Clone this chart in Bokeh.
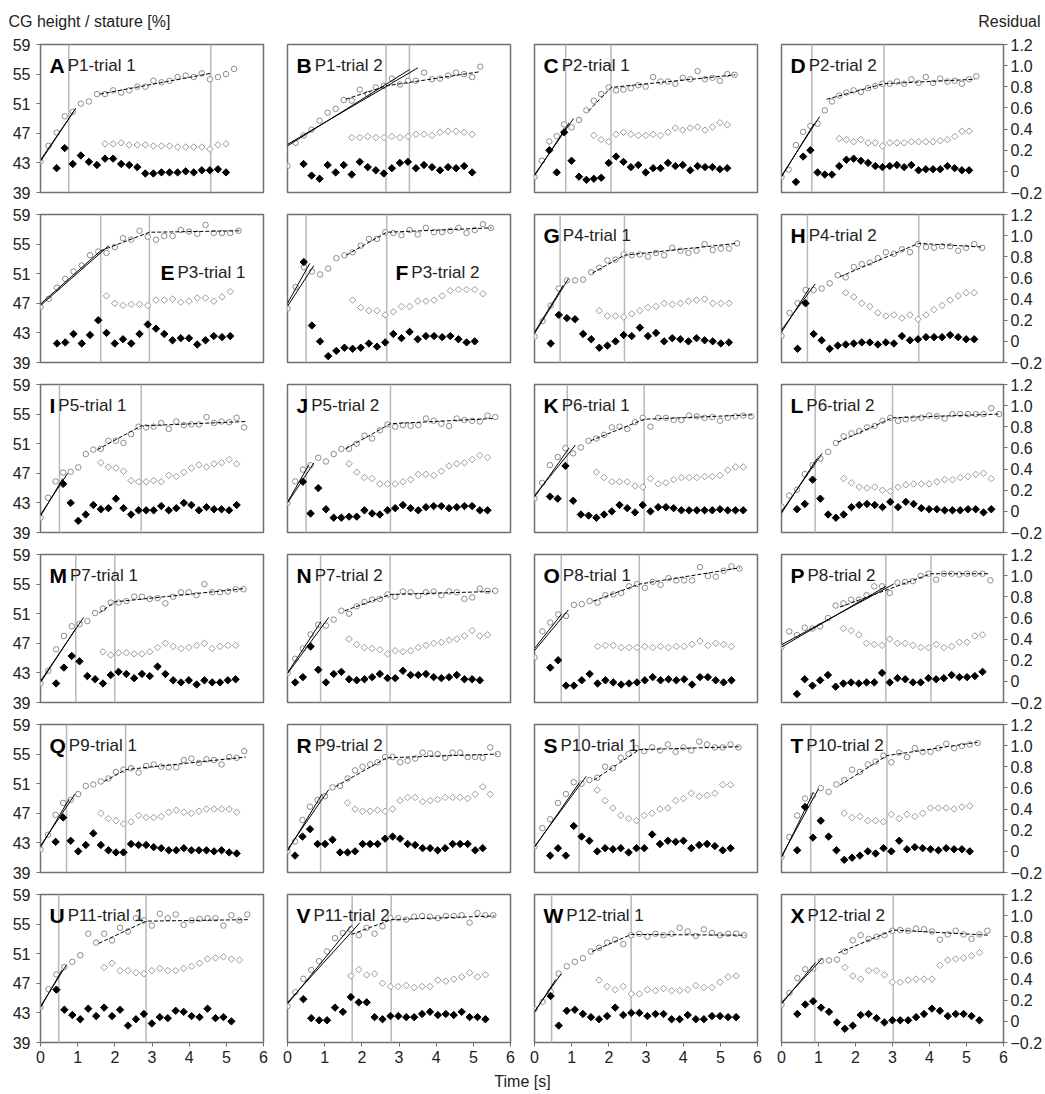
from bokeh.plotting import figure
from bokeh.layouts import gridplot, column
from bokeh.models import Range1d, LinearAxis, Label, Span, FixedTicker
from bokeh.embed import file_html
from bokeh.resources import INLINE

# ---------------- data ----------------
# cg: CG height / stature [%] (left axis), sampled every dt seconds from t=0
# open: residual (open diamonds, right axis) starting at sample 8
# fill: residual (filled diamonds, right axis) starting at sample fill0
# fit: two straight fits of the first phase [t0, y0, t1, y1]
# dash: dashed fit polyline [[t, y], ...]; phase: phase boundaries [s]

A_dt = 0.217
A_cg = [43.2, 45.3, 47.1, 49.3, 49.9, 51.0, 51.3, 52.3, 52.3, 52.8, 52.5, 52.8, 53.3, 53.3, 54.1, 53.9, 54.1, 54.6, 54.8, 54.6, 55.1, 54.3, 54.6, 55.0, 55.7]
A_open = [0.26, 0.26, 0.27, 0.25, 0.25, 0.25, 0.24, 0.24, 0.24, 0.23, 0.23, 0.23, 0.23, 0.21, 0.25, 0.26]
A_fill0 = 2
A_fill = [0.03, 0.22, 0.07, 0.15, 0.09, 0.06, 0.12, 0.12, 0.07, 0.06, 0.04, -0.02, -0.02, -0.01, -0.01, -0.01, 0.00, -0.01, 0.01, 0.01, 0.02, -0.01]
A_fit = [[0, 43.2, 0.95, 50.4], [0, 43.4, 0.90, 50.0]]
A_dash = [[1.60, 52.3], [4.58, 55.1]]
A_phase = [0.76, 4.58]

B_dt = 0.216
B_cg = [42.6, 45.7, 46.7, 47.5, 48.7, 49.8, 50.3, 51.5, 51.4, 52.9, 52.3, 53.2, 53.4, 54.4, 53.6, 54.1, 54.1, 55.2, 54.3, 54.4, 54.8, 55.2, 55.0, 54.6, 56.0]
B_open = [0.32, 0.32, 0.33, 0.32, 0.32, 0.33, 0.32, 0.33, 0.35, 0.35, 0.34, 0.37, 0.38, 0.38, 0.37, 0.35]
B_fill0 = 2
B_fill = [0.07, -0.04, -0.07, 0.06, -0.01, 0.06, -0.03, 0.09, 0.04, 0.01, -0.02, 0.03, 0.08, 0.09, 0.03, 0.06, 0.04, 0.01, 0.04, 0.03, 0.05, -0.01]
B_fit = [[0, 45.3, 3.28, 55.6], [0, 45.5, 3.51, 55.85]]
B_dash = [[1.57, 51.6], [2.65, 53.4], [5.15, 55.3]]
B_phase = [2.65, 3.28]

C_dt = 0.1995
C_cg = [41.1, 43.3, 45.9, 46.6, 48.2, 47.8, 48.8, 50.1, 51.4, 52.3, 53.2, 52.8, 52.9, 53.1, 53.5, 53.3, 54.6, 54.0, 54.0, 53.7, 54.5, 54.3, 55.4, 54.3, 54.5, 54.1, 55.0, 54.9]
C_open = [0.34, 0.30, 0.28, 0.35, 0.37, 0.35, 0.34, 0.34, 0.35, 0.34, 0.37, 0.41, 0.39, 0.41, 0.42, 0.39, 0.42, 0.46, 0.44]
C_fill0 = 2
C_fill = [0.20, -0.01, 0.37, 0.10, -0.05, -0.08, -0.07, -0.06, 0.08, 0.14, 0.09, 0.04, 0.06, -0.01, 0.03, 0.03, 0.08, 0.05, 0.06, 0.01, 0.05, 0.04, 0.04, 0.02, 0.03]
C_fit = [[0, 41.4, 1.05, 49.0], [0, 41.25, 0.93, 48.4]]
C_dash = [[1.45, 50.0], [2.06, 53.2], [5.40, 54.9]]
C_phase = [0.84, 2.06]

D_dt = 0.195
D_cg = [41.1, 42.1, 45.4, 47.2, 48.0, 48.3, 50.1, 51.3, 52.1, 52.5, 52.8, 52.6, 53.1, 53.4, 53.7, 53.7, 54.0, 53.7, 54.3, 53.8, 54.6, 53.8, 54.4, 54.0, 54.1, 53.7, 54.3, 54.7]
D_open = [0.31, 0.30, 0.28, 0.30, 0.27, 0.27, 0.24, 0.27, 0.27, 0.27, 0.28, 0.28, 0.28, 0.28, 0.29, 0.30, 0.33, 0.38, 0.38]
D_fill0 = 2
D_fill = [-0.10, 0.14, 0.20, -0.01, -0.03, -0.03, 0.05, 0.11, 0.12, 0.10, 0.08, 0.05, 0.04, 0.05, 0.06, 0.04, 0.06, 0.01, 0.02, 0.02, 0.02, 0.05, 0.03, 0.01, 0.01]
D_fit = [[0, 41.25, 1.03, 49.25], [0, 41.1, 0.88, 48.3]]
D_dash = [[1.22, 51.6], [2.77, 53.7], [5.23, 54.3]]
D_phase = [0.82, 2.77]

E_dt = 0.222
E_cg = [46.5, 47.6, 49.1, 50.3, 51.3, 52.1, 53.5, 54.0, 53.8, 54.6, 55.8, 55.6, 56.8, 56.0, 55.6, 56.1, 56.1, 56.9, 56.7, 56.4, 57.6, 56.5, 56.5, 56.5, 56.8]
E_open = [0.43, 0.36, 0.34, 0.35, 0.35, 0.34, 0.39, 0.39, 0.40, 0.37, 0.38, 0.41, 0.41, 0.38, 0.42, 0.47]
E_fill0 = 2
E_fill = [-0.02, -0.01, 0.07, -0.02, 0.06, 0.20, 0.08, -0.02, 0.02, -0.02, 0.07, 0.16, 0.12, 0.07, 0.01, 0.03, 0.03, -0.03, 0.01, 0.05, 0.04, 0.05]
E_fit = [[0, 46.7, 1.84, 54.8], [0, 46.9, 1.62, 54.1]]
E_dash = [[1.62, 54.1], [2.93, 56.6], [5.35, 56.8]]
E_phase = [1.62, 2.93]

F_dt = 0.219
F_cg = [46.3, 49.2, 51.9, 51.3, 50.9, 51.7, 53.1, 53.5, 53.9, 54.8, 55.7, 55.7, 56.6, 56.5, 56.2, 56.9, 56.3, 57.2, 56.6, 56.6, 56.8, 57.2, 56.5, 56.9, 57.7, 57.2]
F_open = [0.39, 0.32, 0.29, 0.29, 0.25, 0.28, 0.33, 0.33, 0.38, 0.38, 0.39, 0.43, 0.48, 0.49, 0.49, 0.49, 0.45]
F_fill0 = 2
F_fill = [0.75, 0.15, 0.00, -0.14, -0.09, -0.06, -0.07, -0.06, -0.02, -0.05, -0.01, 0.07, 0.03, 0.09, 0.02, 0.05, 0.05, 0.04, 0.05, 0.02, -0.01, 0.00]
F_fit = [[0, 46.6, 0.71, 52.1], [0, 47.0, 0.60, 52.4]]
F_dash = [[1.58, 53.5], [2.67, 56.6], [5.49, 57.2]]
F_phase = [0.50, 2.67]

G_dt = 0.218
G_cg = [42.5, 44.6, 46.7, 49.0, 50.1, 50.1, 50.2, 51.2, 51.8, 52.8, 52.9, 53.6, 53.5, 53.6, 53.3, 53.8, 53.5, 54.5, 54.1, 53.8, 54.1, 55.0, 54.2, 54.4, 54.4, 55.1]
G_open = [0.29, 0.24, 0.24, 0.23, 0.26, 0.29, 0.32, 0.33, 0.36, 0.35, 0.36, 0.38, 0.39, 0.40, 0.36, 0.36, 0.36]
G_fill0 = 2
G_fill = [-0.02, 0.25, 0.22, 0.21, 0.07, 0.02, -0.06, -0.04, 0.00, 0.06, 0.05, 0.13, 0.05, 0.08, 0.00, 0.03, 0.02, 0.00, 0.03, 0.01, 0.00, -0.02, -0.01]
G_fit = [[0, 42.9, 0.91, 50.3], [0, 43.1, 0.77, 49.4]]
G_dash = [[1.56, 51.1], [2.42, 53.5], [5.45, 55.1]]
G_phase = [0.69, 2.42]

H_dt = 0.217
H_cg = [42.6, 45.7, 47.0, 48.8, 48.8, 49.0, 49.7, 50.8, 50.5, 51.9, 52.3, 52.5, 53.1, 53.9, 53.7, 54.3, 53.9, 55.0, 54.6, 54.5, 54.7, 54.7, 54.1, 54.5, 55.0, 54.5]
H_open = [0.46, 0.42, 0.36, 0.33, 0.27, 0.24, 0.25, 0.22, 0.25, 0.21, 0.25, 0.30, 0.34, 0.39, 0.43, 0.46, 0.46]
H_fill0 = 2
H_fill = [-0.07, 0.36, 0.07, 0.01, -0.07, -0.04, -0.03, -0.02, -0.01, -0.01, -0.03, -0.01, -0.02, 0.05, 0.01, 0.02, 0.04, 0.04, 0.04, 0.06, 0.04, 0.02, 0.02]
H_fit = [[0, 43.4, 0.91, 49.6], [0, 43.1, 0.76, 49.1]]
H_dash = [[1.58, 50.6], [3.71, 55.1], [5.44, 54.6]]
H_phase = [0.70, 3.71]

I_dt = 0.203
I_cg = [41.0, 43.7, 45.9, 47.1, 47.2, 47.8, 49.6, 50.2, 50.3, 51.4, 51.4, 51.1, 52.3, 53.3, 53.2, 53.3, 53.8, 53.0, 54.0, 53.5, 53.6, 53.6, 54.6, 53.8, 54.0, 53.9, 54.5, 53.2]
I_open = [0.46, 0.42, 0.41, 0.38, 0.29, 0.28, 0.28, 0.29, 0.28, 0.34, 0.33, 0.37, 0.41, 0.44, 0.42, 0.45, 0.46, 0.49, 0.45]
I_fill0 = 3
I_fill = [0.26, 0.08, -0.09, -0.03, 0.06, 0.02, 0.03, 0.12, 0.03, -0.03, 0.01, 0.01, 0.01, 0.05, 0.01, 0.03, 0.08, 0.06, 0.01, 0.04, 0.02, 0.02, 0.01, 0.06]
I_fit = [[0, 41.4, 0.73, 47.0], [0, 41.2, 0.60, 46.3]]
I_dash = [[1.53, 50.2], [2.71, 53.4], [5.52, 54.0]]
I_phase = [0.51, 2.71]

J_dt = 0.207
J_cg = [43.0, 45.9, 47.5, 48.1, 49.1, 48.6, 49.6, 50.3, 50.3, 51.0, 52.1, 51.7, 52.8, 53.6, 53.3, 53.5, 53.4, 53.5, 54.4, 54.1, 53.7, 53.4, 54.4, 54.2, 54.1, 54.0, 54.8, 54.6]
J_open = [0.45, 0.37, 0.32, 0.31, 0.26, 0.26, 0.26, 0.28, 0.30, 0.35, 0.35, 0.34, 0.38, 0.43, 0.45, 0.46, 0.49, 0.53, 0.51]
J_fill0 = 2
J_fill = [0.28, -0.02, 0.22, 0.02, -0.06, -0.06, -0.05, -0.05, 0.01, -0.02, -0.03, 0.01, 0.03, 0.06, 0.03, 0.01, 0.04, 0.05, 0.05, 0.03, 0.04, 0.05, 0.05, 0.01, 0.01]
J_fit = [[0, 43.0, 0.71, 48.4], [0, 43.1, 0.57, 48.1]]
J_dash = [[1.56, 50.3], [2.77, 53.7], [5.52, 54.4]]
J_phase = [0.50, 2.77]

K_dt = 0.208
K_cg = [43.6, 45.7, 48.1, 49.2, 50.4, 49.7, 50.5, 51.4, 51.7, 52.2, 53.2, 53.3, 53.0, 53.9, 54.5, 53.3, 54.5, 54.5, 54.2, 54.2, 54.8, 54.7, 54.5, 54.6, 54.1, 54.5, 54.7, 54.8, 54.7]
K_open = [0.37, 0.32, 0.28, 0.28, 0.28, 0.24, 0.23, 0.31, 0.26, 0.27, 0.30, 0.32, 0.32, 0.32, 0.33, 0.33, 0.34, 0.39, 0.42, 0.42]
K_fill0 = 2
K_fill = [0.14, 0.12, 0.43, 0.10, -0.03, -0.04, -0.06, -0.03, 0.00, 0.06, 0.03, -0.01, 0.06, 0.00, 0.04, 0.04, 0.03, 0.01, 0.01, 0.01, 0.01, 0.01, 0.02, 0.01, 0.01, 0.01]
K_fit = [[0, 44.0, 1.10, 50.8], [0, 43.8, 0.93, 50.4]]
K_dash = [[1.51, 51.4], [2.95, 54.3], [5.85, 54.9]]
K_phase = [0.88, 2.95]

L_dt = 0.210
L_cg = [42.5, 44.0, 44.8, 46.9, 48.1, 49.0, 49.9, 51.1, 52.0, 52.4, 52.7, 53.2, 53.4, 54.1, 54.5, 54.1, 54.3, 54.4, 54.5, 54.8, 54.7, 54.4, 55.0, 55.0, 55.0, 55.0, 55.0, 55.8, 55.0]
L_open = [0.31, 0.27, 0.23, 0.22, 0.23, 0.20, 0.19, 0.23, 0.25, 0.26, 0.26, 0.26, 0.28, 0.30, 0.30, 0.32, 0.33, 0.35, 0.36, 0.31]
L_fill0 = 2
L_fill = [0.02, 0.07, 0.30, 0.12, -0.03, -0.06, -0.03, 0.04, 0.06, 0.07, 0.06, 0.04, 0.09, 0.04, 0.09, 0.07, 0.03, 0.02, 0.02, 0.01, 0.01, 0.01, 0.02, 0.02, -0.01, 0.02]
L_fit = [[0, 41.8, 1.10, 49.7], [0, 41.6, 0.96, 49.0]]
L_dash = [[1.52, 51.2], [3.00, 54.5], [5.88, 55.0]]
L_phase = [0.91, 3.00]

M_dt = 0.210
M_cg = [41.6, 43.3, 46.2, 48.0, 49.3, 49.6, 50.0, 51.1, 51.7, 52.5, 52.5, 52.7, 53.3, 53.3, 53.0, 53.1, 52.4, 53.3, 53.9, 53.9, 53.5, 55.0, 53.9, 53.9, 54.0, 54.3, 54.3]
M_open = [0.28, 0.25, 0.27, 0.27, 0.26, 0.26, 0.28, 0.32, 0.36, 0.33, 0.31, 0.32, 0.34, 0.36, 0.31, 0.33, 0.34, 0.34]
M_fill0 = 2
M_fill = [-0.02, 0.13, 0.24, 0.19, 0.05, 0.02, -0.02, 0.06, 0.09, 0.07, 0.03, 0.07, 0.05, 0.14, 0.07, 0.01, -0.01, 0.01, -0.03, 0.01, -0.01, -0.01, 0.01, 0.02]
M_fit = [[0, 41.9, 1.16, 50.5], [0, 41.7, 0.95, 49.0]]
M_dash = [[1.58, 51.1], [2.00, 52.6], [5.50, 54.4]]
M_phase = [0.95, 2.00]

N_dt = 0.207
N_cg = [43.0, 44.9, 46.3, 48.2, 49.5, 49.4, 50.2, 51.4, 51.0, 52.0, 52.6, 52.9, 53.0, 53.6, 53.3, 54.0, 53.9, 53.4, 53.9, 54.0, 53.5, 54.0, 53.9, 53.0, 53.2, 54.4, 54.1, 54.1]
N_open = [0.40, 0.35, 0.32, 0.31, 0.30, 0.26, 0.29, 0.28, 0.29, 0.32, 0.34, 0.36, 0.37, 0.39, 0.40, 0.43, 0.48, 0.43, 0.44]
N_fill0 = 1
N_fill = [-0.01, 0.04, 0.33, 0.11, -0.01, 0.07, 0.09, 0.02, 0.01, 0.02, 0.04, 0.07, 0.03, 0.03, 0.10, 0.06, 0.06, 0.07, 0.04, 0.03, 0.04, 0.06, 0.02, 0.02, 0.01]
N_fit = [[0, 42.9, 1.11, 50.5], [0, 43.0, 0.90, 49.9]]
N_dash = [[1.54, 51.4], [2.76, 53.6], [5.52, 54.0]]
N_phase = [0.89, 2.76]

O_dt = 0.212
O_cg = [45.1, 48.6, 49.8, 50.9, 50.7, 52.2, 52.3, 52.7, 52.5, 53.5, 53.6, 53.8, 54.7, 55.0, 54.5, 55.3, 54.9, 55.8, 55.5, 55.5, 55.5, 57.3, 56.1, 56.0, 56.8, 57.4, 57.1]
O_open = [0.33, 0.34, 0.34, 0.32, 0.32, 0.32, 0.33, 0.32, 0.33, 0.32, 0.33, 0.33, 0.35, 0.38, 0.34, 0.36, 0.35, 0.33]
O_fill0 = 2
O_fill = [0.13, 0.20, -0.04, -0.04, 0.01, 0.07, -0.02, 0.01, -0.01, -0.03, -0.02, -0.01, 0.01, 0.04, 0.01, 0.02, 0.01, 0.02, -0.03, 0.04, 0.04, 0.01, -0.01, 0.01]
O_fit = [[0, 46.0, 0.91, 51.5], [0, 46.3, 0.72, 50.9]]
O_dash = [[1.58, 52.7], [2.82, 55.0], [5.53, 57.2]]
O_phase = [0.72, 2.82]

P_dt = 0.209
P_cg = [46.5, 48.6, 48.1, 49.1, 49.0, 49.3, 50.4, 52.1, 52.4, 52.9, 52.9, 53.5, 54.7, 54.7, 53.8, 55.2, 55.3, 55.4, 56.1, 56.4, 55.6, 56.4, 56.4, 56.3, 56.4, 56.4, 56.4, 55.5]
P_open = [0.50, 0.48, 0.44, 0.36, 0.35, 0.34, 0.40, 0.36, 0.36, 0.34, 0.32, 0.32, 0.35, 0.32, 0.33, 0.37, 0.37, 0.43, 0.44]
P_fill0 = 2
P_fill = [-0.12, 0.02, -0.04, 0.01, 0.06, -0.05, -0.02, -0.01, -0.02, -0.01, -0.01, 0.08, -0.01, 0.03, 0.02, -0.01, -0.01, 0.03, 0.02, 0.03, 0.06, 0.04, 0.04, 0.05, 0.09]
P_fit = [[0, 46.8, 3.03, 55.0], [0, 46.5, 2.82, 54.7]]
P_dash = [[1.58, 51.9], [4.04, 56.4], [5.60, 56.4]]
P_phase = [2.82, 4.04]

Q_dt = 0.203
Q_cg = [42.1, 44.1, 46.8, 48.4, 48.8, 49.6, 50.7, 50.9, 51.3, 51.7, 52.6, 52.9, 53.1, 52.5, 53.4, 53.6, 53.3, 53.2, 53.2, 54.2, 54.4, 53.8, 54.3, 54.2, 53.6, 54.6, 54.5, 55.4]
Q_open = [0.36, 0.31, 0.29, 0.26, 0.28, 0.34, 0.32, 0.32, 0.33, 0.37, 0.39, 0.37, 0.36, 0.38, 0.40, 0.40, 0.40, 0.40, 0.37]
Q_fill0 = 2
Q_fill = [0.09, 0.32, 0.10, 0.00, 0.06, 0.17, 0.06, 0.01, -0.01, -0.01, 0.07, 0.06, 0.06, 0.04, 0.03, 0.01, 0.01, 0.03, 0.01, 0.01, 0.01, 0.00, 0.01, -0.01, -0.02]
Q_fit = [[0, 42.6, 0.93, 49.6], [0, 42.4, 0.77, 48.9]]
Q_dash = [[1.71, 51.3], [2.29, 52.9], [5.52, 54.6]]
Q_phase = [0.70, 2.29]

R_dt = 0.202
R_cg = [41.9, 43.2, 46.1, 47.9, 48.8, 49.3, 50.5, 50.7, 51.7, 52.8, 53.3, 53.6, 53.9, 54.6, 54.6, 53.9, 54.1, 54.4, 55.2, 55.1, 55.0, 54.5, 55.2, 55.2, 54.6, 54.6, 54.5, 55.9, 55.0]
R_open = [0.46, 0.40, 0.38, 0.38, 0.39, 0.38, 0.40, 0.48, 0.51, 0.51, 0.47, 0.48, 0.49, 0.51, 0.51, 0.51, 0.50, 0.54, 0.61, 0.54]
R_fill0 = 1
R_fill = [-0.04, 0.14, 0.21, 0.07, 0.07, 0.11, -0.01, -0.01, 0.00, 0.07, 0.07, 0.07, 0.12, 0.14, 0.12, 0.07, 0.06, 0.03, 0.03, 0.01, 0.03, 0.07, 0.07, 0.07, 0.01, 0.03]
R_fit = [[0, 42.1, 1.11, 50.2], [0, 41.9, 0.93, 49.6]]
R_dash = [[1.29, 50.6], [2.67, 54.5], [5.63, 55.0]]
R_phase = [0.89, 2.67]

S_dt = 0.211
S_cg = [42.5, 45.0, 46.2, 48.4, 49.6, 51.2, 51.0, 51.5, 51.8, 53.3, 53.1, 54.5, 55.0, 55.8, 55.4, 55.9, 55.5, 56.3, 55.3, 55.9, 55.5, 56.7, 56.3, 55.9, 55.9, 56.3, 55.9]
S_open = [0.58, 0.48, 0.41, 0.34, 0.31, 0.29, 0.34, 0.36, 0.40, 0.41, 0.48, 0.50, 0.55, 0.52, 0.53, 0.55, 0.63, 0.63]
S_fill0 = 2
S_fill = [-0.04, 0.03, -0.04, 0.24, 0.14, 0.10, 0.00, 0.03, 0.02, 0.03, -0.01, 0.03, 0.03, 0.16, 0.07, 0.10, 0.09, 0.10, 0.03, 0.06, 0.07, 0.05, 0.01, 0.03]
S_fit = [[0, 42.5, 1.39, 52.0], [0, 42.4, 1.20, 51.1]]
S_dash = [[1.60, 51.5], [2.82, 55.6], [5.50, 56.0]]
S_phase = [1.20, 2.82]

T_dt = 0.212
T_cg = [41.1, 43.8, 46.7, 49.0, 49.4, 50.4, 49.9, 50.9, 51.5, 52.9, 52.6, 53.6, 54.0, 54.8, 53.9, 55.2, 54.6, 55.8, 55.3, 55.3, 55.8, 56.4, 55.8, 56.1, 56.3, 56.5]
T_open = [0.36, 0.32, 0.33, 0.29, 0.29, 0.28, 0.35, 0.31, 0.35, 0.33, 0.36, 0.41, 0.41, 0.41, 0.40, 0.42, 0.43]
T_fill0 = 2
T_fill = [0.01, 0.42, 0.13, 0.29, 0.14, 0.01, -0.08, -0.06, -0.04, 0.00, -0.02, 0.03, 0.00, 0.10, 0.02, 0.04, 0.03, 0.02, 0.01, 0.03, 0.02, 0.02, 0.00]
T_fit = [[0, 41.2, 1.00, 50.3], [0, 41.0, 0.86, 49.8]]
T_dash = [[1.58, 50.8], [2.85, 54.8], [5.30, 56.6]]
T_phase = [0.79, 2.85]

U_dt = 0.214
U_cg = [43.8, 46.2, 48.2, 49.2, 49.9, 50.8, 53.7, 52.5, 53.7, 52.8, 54.5, 54.0, 55.8, 55.5, 54.8, 56.4, 55.8, 56.3, 54.9, 55.5, 55.7, 55.8, 55.8, 54.8, 56.2, 55.5, 56.3]
U_open = [0.51, 0.55, 0.48, 0.48, 0.46, 0.45, 0.48, 0.50, 0.48, 0.48, 0.50, 0.52, 0.55, 0.59, 0.60, 0.61, 0.59, 0.58]
U_fill0 = 2
U_fill = [0.30, 0.11, 0.06, 0.02, 0.12, 0.05, 0.13, 0.05, 0.11, -0.04, 0.02, 0.07, -0.02, 0.04, 0.03, 0.10, 0.09, 0.05, 0.04, 0.12, 0.03, 0.04, 0.00]
U_fit = [[0, 43.9, 0.70, 49.5], [0, 43.7, 0.58, 48.8]]
U_dash = [[1.57, 52.4], [2.84, 55.4], [5.60, 55.6]]
U_phase = [0.49, 2.84]

V_dt = 0.213
V_cg = [43.9, 45.8, 47.6, 48.8, 50.0, 51.3, 53.1, 53.8, 54.3, 53.5, 54.5, 53.7, 54.7, 55.8, 55.8, 55.6, 56.0, 56.1, 56.0, 55.8, 56.1, 56.1, 56.2, 55.2, 56.5, 56.2, 56.2]
V_open = [0.43, 0.49, 0.44, 0.45, 0.36, 0.33, 0.33, 0.34, 0.32, 0.33, 0.33, 0.39, 0.38, 0.40, 0.42, 0.46, 0.42, 0.44]
V_fill0 = 2
V_fill = [0.21, 0.03, 0.01, 0.01, 0.13, 0.09, 0.23, 0.18, 0.18, 0.04, 0.02, 0.05, 0.05, 0.04, 0.04, 0.07, 0.09, 0.06, 0.07, 0.06, 0.09, 0.04, 0.04, 0.02]
V_fit = [[0, 44.4, 1.95, 55.2], [0, 44.2, 1.72, 54.8]]
V_dash = [[1.72, 53.6], [2.79, 55.6], [5.57, 56.1]]
V_phase = [1.74, 2.79]

W_dt = 0.217
W_cg = [43.5, 44.5, 45.9, 48.3, 49.3, 49.9, 50.4, 51.3, 51.8, 52.5, 52.9, 52.3, 53.5, 53.7, 53.3, 53.7, 53.5, 53.7, 54.5, 54.0, 53.4, 54.3, 53.8, 53.5, 53.7, 53.7, 53.5]
W_open = [0.39, 0.33, 0.30, 0.33, 0.26, 0.26, 0.30, 0.29, 0.31, 0.29, 0.29, 0.30, 0.34, 0.32, 0.32, 0.37, 0.42, 0.43]
W_fill0 = 2
W_fill = [0.24, -0.04, 0.10, 0.11, 0.07, 0.04, 0.02, 0.05, 0.13, 0.06, 0.08, 0.08, 0.05, 0.07, 0.07, 0.02, 0.02, 0.06, 0.02, 0.02, 0.05, 0.05, 0.04, 0.04]
W_fit = [[0, 43.2, 0.72, 48.3], [0, 43.1, 0.57, 47.5]]
W_dash = [[1.55, 51.3], [2.60, 53.6], [5.67, 53.5]]
W_phase = [0.46, 2.60]

X_dt = 0.214
X_cg = [44.1, 45.7, 47.7, 48.9, 49.0, 50.0, 50.1, 50.2, 51.3, 52.8, 53.5, 53.0, 53.3, 53.5, 54.1, 54.2, 54.1, 54.4, 54.3, 54.0, 52.9, 53.6, 54.1, 53.6, 53.0, 53.6, 54.1]
X_open = [0.51, 0.43, 0.40, 0.48, 0.48, 0.44, 0.37, 0.37, 0.39, 0.40, 0.40, 0.40, 0.53, 0.58, 0.59, 0.60, 0.62, 0.65]
X_fill0 = 2
X_fill = [0.07, 0.16, 0.19, 0.13, 0.09, -0.01, -0.07, -0.04, 0.06, 0.07, 0.03, -0.01, 0.01, 0.01, 0.01, 0.04, 0.07, 0.12, 0.10, 0.05, 0.07, 0.07, 0.05, 0.01]
X_fit = [[0, 44.4, 1.11, 50.4], [0, 44.2, 0.92, 49.8]]
X_dash = [[1.54, 51.1], [3.02, 54.2], [5.60, 53.5]]
X_phase = [0.90, 3.02]

LETTERS = list("ABCDEFGHIJKLMNOPQRSTUVWX")
TITLES = ["P1-trial 1", "P1-trial 2", "P2-trial 1", "P2-trial 2",
          "P3-trial 1", "P3-trial 2", "P4-trial 1", "P4-trial 2",
          "P5-trial 1", "P5-trial 2", "P6-trial 1", "P6-trial 2",
          "P7-trial 1", "P7-trial 2", "P8-trial 1", "P8-trial 2",
          "P9-trial 1", "P9-trial 2", "P10-trial 1", "P10-trial 2",
          "P11-trial 1", "P11-trial 2", "P12-trial 1", "P12-trial 2"]
OPEN_START = 8

LEFT_TICKS = [39, 43, 47, 51, 55, 59]
RIGHT_TICKS = [-0.2, 0.0, 0.2, 0.4, 0.6, 0.8, 1.0, 1.2]
RIGHT_LABELS = ["\u22120.2", "0", "0.2", "0.4", "0.6", "0.8", "1.0", "1.2"]
TIME_TICKS = [0, 1, 2, 3, 4, 5, 6]

# ---------------- style / layout ----------------
FONT = "Liberation Sans"
TOTAL_W = 1045
HEADER_H = 33
FOOTER_H = 26
COL_W = [275, 247, 247, 276]
COL_LB = [40, 12, 12, 12]
COL_RB = [12, 12, 12, 41]
ROW_H = [170, 170, 170, 170, 170, 185]
ROW_TB = [11, 11, 11, 11, 11, 11]
ROW_BB = [11, 11, 11, 11, 11, 26]
BOLD_W = {"A": 722, "B": 722, "C": 722, "D": 722, "E": 667, "F": 611, "G": 778, "H": 722,
          "I": 278, "J": 556, "K": 722, "L": 611, "M": 833, "N": 722, "O": 778, "P": 667,
          "Q": 778, "R": 722, "S": 667, "T": 611, "U": 722, "V": 667, "W": 944, "X": 667}
LETTER_SIZE = 21
LABEL_POS = {"E": (120, 90), "F": (108, 90)}

CIRCLE_COLOR = "#8c8c8c"
OPEN_COLOR = "#9a9a9a"
PHASE_COLOR = "#b8b8b8"
FRAME_COLOR = "#707070"
TEXT_COLOR = "#222222"
DIAMOND_ANGLE = 0.7853981634


def no_grid(fig):
    fig.xgrid.visible = False
    fig.ygrid.visible = False


def style_axis(ax, standoff):
    ax.major_label_text_font = FONT
    ax.major_label_text_font_size = "16px"
    ax.major_label_text_color = TEXT_COLOR
    ax.major_tick_in = 0
    ax.major_tick_out = 4
    ax.minor_tick_out = 0
    ax.minor_tick_in = 0
    ax.major_label_standoff = standoff
    ax.axis_line_color = None
    ax.major_tick_line_color = FRAME_COLOR


def blank_strip(height):
    s = figure(width=TOTAL_W, height=height, x_range=Range1d(0, 1), y_range=Range1d(0, 1),
               x_axis_location=None, y_axis_location=None, toolbar_location=None,
               output_backend="svg", min_border=0)
    s.outline_line_color = None
    s.background_fill_color = "white"
    s.border_fill_color = "white"
    no_grid(s)
    return s


header = blank_strip(HEADER_H)
header.add_layout(Label(x=8, y=12, x_units="screen", y_units="screen",
                        text="CG height / stature [%]", text_font=FONT,
                        text_font_size="16px", text_color=TEXT_COLOR,
                        text_baseline="alphabetic"))
header.add_layout(Label(x=1040, y=12, x_units="screen", y_units="screen",
                        text="Residual", text_font=FONT, text_align="right",
                        text_font_size="16px", text_color=TEXT_COLOR,
                        text_baseline="alphabetic"))

footer = blank_strip(FOOTER_H)
footer.add_layout(Label(x=522, y=13, x_units="screen", y_units="screen",
                        text="Time [s]", text_font=FONT, text_align="center",
                        text_font_size="16px", text_color=TEXT_COLOR,
                        text_baseline="middle"))

g = globals()
grid = []
for r in range(6):
    row = []
    for c in range(4):
        k = r * 4 + c
        L = LETTERS[k]
        dt = g[L + "_dt"]
        cg = g[L + "_cg"]
        op = g[L + "_open"]
        fl = g[L + "_fill"]
        f0 = g[L + "_fill0"]
        fits = g[L + "_fit"]
        dash = g[L + "_dash"]
        phases = g[L + "_phase"]

        p = figure(width=COL_W[c], height=ROW_H[r],
                   x_range=Range1d(0, 6), y_range=Range1d(39, 59),
                   x_axis_location=None, y_axis_location=None,
                   toolbar_location=None, output_backend="svg",
                   min_border_left=COL_LB[c], min_border_right=COL_RB[c],
                   min_border_top=ROW_TB[r], min_border_bottom=ROW_BB[r])
        p.extra_y_ranges = {"res": Range1d(-0.2, 1.2)}
        p.outline_line_color = FRAME_COLOR
        p.outline_line_width = 1.5
        p.background_fill_color = "white"
        p.border_fill_color = "white"
        no_grid(p)

        for ph in phases:
            p.add_layout(Span(location=ph, dimension="height", line_color=PHASE_COLOR,
                              line_width=1.5, level="underlay"))

        t_cg = [i * dt for i in range(len(cg))]
        t_op = [(OPEN_START + i) * dt for i in range(len(op))]
        t_fl = [(f0 + i) * dt for i in range(len(fl))]

        p.scatter(t_cg, cg, marker="circle", size=5.5, line_color=CIRCLE_COLOR,
                  fill_color="white", line_width=1)
        p.scatter(t_op, op, marker="square", size=4.6, angle=DIAMOND_ANGLE,
                  line_color=OPEN_COLOR, fill_color="white", line_width=1,
                  y_range_name="res")
        p.scatter(t_fl, fl, marker="square", size=5.2, angle=DIAMOND_ANGLE,
                  line_color="black", fill_color="black", line_width=1,
                  y_range_name="res")

        for f in fits:
            p.line([f[0], f[2]], [f[1], f[3]], line_color="black", line_width=1)
        p.line([d[0] for d in dash], [d[1] for d in dash], line_color="black",
               line_width=1, line_dash="4 2")

        lx, ly = LABEL_POS.get(L, (9, 127))
        p.add_layout(Label(x=lx, y=ly, x_units="screen", y_units="screen", text=L,
                           text_font=FONT, text_font_size=f"{LETTER_SIZE}px",
                           text_font_style="bold", text_color="black",
                           text_baseline="alphabetic"))
        p.add_layout(Label(x=lx + BOLD_W[L] * LETTER_SIZE / 1000 + 3, y=ly,
                           x_units="screen", y_units="screen", text=TITLES[k],
                           text_font=FONT, text_font_size="17px", text_color=TEXT_COLOR,
                           text_baseline="alphabetic"))

        if c == 0:
            ax = LinearAxis(ticker=FixedTicker(ticks=LEFT_TICKS))
            style_axis(ax, 6)
            p.add_layout(ax, "left")
        if c == 3:
            ax = LinearAxis(y_range_name="res", ticker=FixedTicker(ticks=RIGHT_TICKS))
            ax.major_label_overrides = {v: s for v, s in zip(RIGHT_TICKS, RIGHT_LABELS)}
            style_axis(ax, 3)
            p.add_layout(ax, "right")
        if r == 5:
            ax = LinearAxis(ticker=FixedTicker(ticks=TIME_TICKS))
            style_axis(ax, 4)
            p.add_layout(ax, "below")
        row.append(p)
    grid.append(row)

layout = column(header, gridplot(grid, toolbar_location=None), footer)
open("out.html", "w").write(file_html(layout, INLINE))
